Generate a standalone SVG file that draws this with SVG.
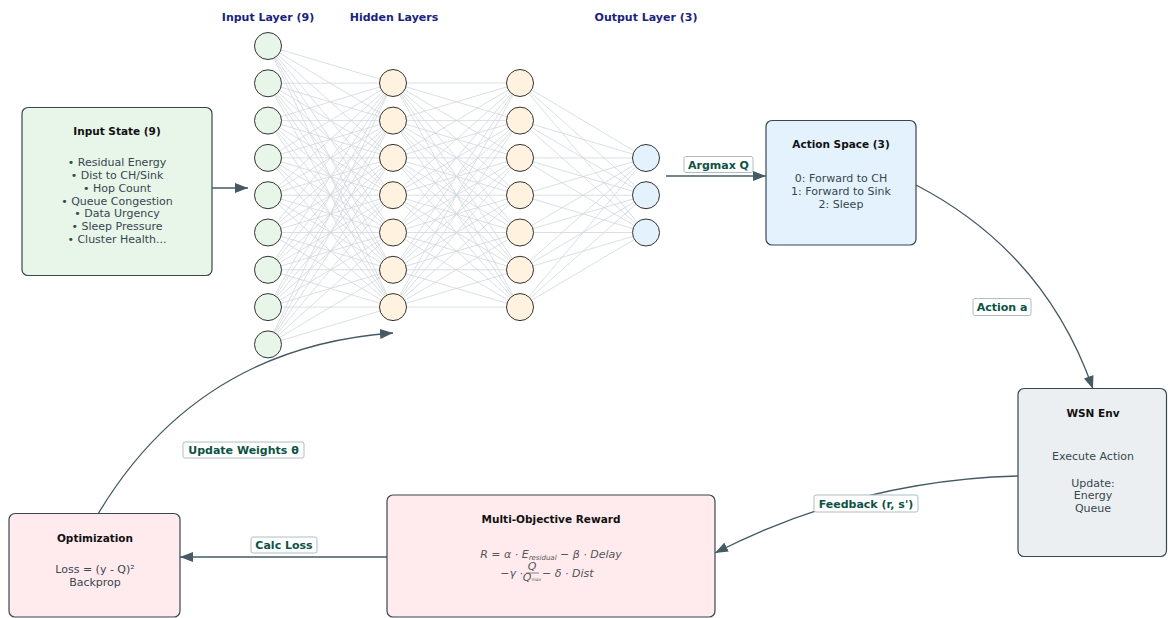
<svg xmlns="http://www.w3.org/2000/svg" width="1168" height="618" viewBox="0 0 1168 618">
<defs>
<marker id="arr" markerUnits="userSpaceOnUse" markerWidth="14" markerHeight="10" refX="13" refY="5" orient="auto">
<path d="M0,0 L13,5 L0,10 z" fill="#455a64"/>
</marker>
<style>
.lt{font-family:"DejaVu Sans",sans-serif;font-weight:bold;font-size:11px;fill:#1a237e;text-anchor:middle}
.ttl{font-family:"DejaVu Sans",sans-serif;font-weight:bold;font-size:10.5px;fill:#111;text-anchor:middle}
.bd{font-family:"DejaVu Sans",sans-serif;font-size:11px;fill:#37474f;text-anchor:middle}
.box{stroke:#37474f;stroke-width:1.2}
.nd{stroke:#333;stroke-width:1}
.in{fill:#e8f5e9}.hd{fill:#fff3e0}.out{fill:#e3f2fd}
.w{stroke:#cfd8dc;stroke-width:0.8}
.con{fill:none;stroke:#455a64;stroke-width:1.3;marker-end:url(#arr)}
.lb{fill:#fff;stroke:#b0bec5;stroke-width:1}
.lbt{font-family:"DejaVu Sans",sans-serif;font-weight:bold;font-size:11px;fill:#0d5345;text-anchor:middle}
.fm{font-family:"DejaVu Sans",sans-serif;font-style:italic;font-size:11px;fill:#555}
</style>
</defs>
<rect width="1168" height="618" fill="#fff"/>

<g id="layer-titles">
<text class="lt" x="268" y="21">Input Layer (9)</text>
<text class="lt" x="394" y="21">Hidden Layers</text>
<text class="lt" x="646" y="21">Output Layer (3)</text>
</g>

<g id="weights">
<g class="w">
<path d="M268,46 L393,83 M268,46 L393,120.6 M268,46 L393,157.9 M268,46 L393,195.2 M268,46 L393,232.5 M268,46 L393,269.8 M268,46 L393,307.1
M268,83.3 L393,83 M268,83.3 L393,120.6 M268,83.3 L393,157.9 M268,83.3 L393,195.2 M268,83.3 L393,232.5 M268,83.3 L393,269.8 M268,83.3 L393,307.1
M268,120.6 L393,83 M268,120.6 L393,120.6 M268,120.6 L393,157.9 M268,120.6 L393,195.2 M268,120.6 L393,232.5 M268,120.6 L393,269.8 M268,120.6 L393,307.1
M268,157.9 L393,83 M268,157.9 L393,120.6 M268,157.9 L393,157.9 M268,157.9 L393,195.2 M268,157.9 L393,232.5 M268,157.9 L393,269.8 M268,157.9 L393,307.1
M268,195.2 L393,83 M268,195.2 L393,120.6 M268,195.2 L393,157.9 M268,195.2 L393,195.2 M268,195.2 L393,232.5 M268,195.2 L393,269.8 M268,195.2 L393,307.1
M268,232.5 L393,83 M268,232.5 L393,120.6 M268,232.5 L393,157.9 M268,232.5 L393,195.2 M268,232.5 L393,232.5 M268,232.5 L393,269.8 M268,232.5 L393,307.1
M268,269.8 L393,83 M268,269.8 L393,120.6 M268,269.8 L393,157.9 M268,269.8 L393,195.2 M268,269.8 L393,232.5 M268,269.8 L393,269.8 M268,269.8 L393,307.1
M268,307.1 L393,83 M268,307.1 L393,120.6 M268,307.1 L393,157.9 M268,307.1 L393,195.2 M268,307.1 L393,232.5 M268,307.1 L393,269.8 M268,307.1 L393,307.1
M268,344.4 L393,83 M268,344.4 L393,120.6 M268,344.4 L393,157.9 M268,344.4 L393,195.2 M268,344.4 L393,232.5 M268,344.4 L393,269.8 M268,344.4 L393,307.1"/>
<path d="M393,83 L520,83 M393,83 L520,120.6 M393,83 L520,157.9 M393,83 L520,195.2 M393,83 L520,232.5 M393,83 L520,269.8 M393,83 L520,307.1
M393,120.6 L520,83 M393,120.6 L520,120.6 M393,120.6 L520,157.9 M393,120.6 L520,195.2 M393,120.6 L520,232.5 M393,120.6 L520,269.8 M393,120.6 L520,307.1
M393,157.9 L520,83 M393,157.9 L520,120.6 M393,157.9 L520,157.9 M393,157.9 L520,195.2 M393,157.9 L520,232.5 M393,157.9 L520,269.8 M393,157.9 L520,307.1
M393,195.2 L520,83 M393,195.2 L520,120.6 M393,195.2 L520,157.9 M393,195.2 L520,195.2 M393,195.2 L520,232.5 M393,195.2 L520,269.8 M393,195.2 L520,307.1
M393,232.5 L520,83 M393,232.5 L520,120.6 M393,232.5 L520,157.9 M393,232.5 L520,195.2 M393,232.5 L520,232.5 M393,232.5 L520,269.8 M393,232.5 L520,307.1
M393,269.8 L520,83 M393,269.8 L520,120.6 M393,269.8 L520,157.9 M393,269.8 L520,195.2 M393,269.8 L520,232.5 M393,269.8 L520,269.8 M393,269.8 L520,307.1
M393,307.1 L520,83 M393,307.1 L520,120.6 M393,307.1 L520,157.9 M393,307.1 L520,195.2 M393,307.1 L520,232.5 M393,307.1 L520,269.8 M393,307.1 L520,307.1"/>
<path d="M520,83 L646,158 M520,83 L646,195.2 M520,83 L646,232.5
M520,120.6 L646,158 M520,120.6 L646,195.2 M520,120.6 L646,232.5
M520,157.9 L646,158 M520,157.9 L646,195.2 M520,157.9 L646,232.5
M520,195.2 L646,158 M520,195.2 L646,195.2 M520,195.2 L646,232.5
M520,232.5 L646,158 M520,232.5 L646,195.2 M520,232.5 L646,232.5
M520,269.8 L646,158 M520,269.8 L646,195.2 M520,269.8 L646,232.5
M520,307.1 L646,158 M520,307.1 L646,195.2 M520,307.1 L646,232.5"/>
</g>
</g>

<g id="input-layer" class="nd in">
<circle cx="268" cy="46" r="13.5"/><circle cx="268" cy="83.3" r="13.5"/><circle cx="268" cy="120.6" r="13.5"/>
<circle cx="268" cy="157.9" r="13.5"/><circle cx="268" cy="195.2" r="13.5"/><circle cx="268" cy="232.5" r="13.5"/>
<circle cx="268" cy="269.8" r="13.5"/><circle cx="268" cy="307.1" r="13.5"/><circle cx="268" cy="344.4" r="13.5"/>
</g>
<g id="hidden-layer-1" class="nd hd">
<circle cx="393" cy="83" r="13.5"/><circle cx="393" cy="120.6" r="13.5"/><circle cx="393" cy="157.9" r="13.5"/>
<circle cx="393" cy="195.2" r="13.5"/><circle cx="393" cy="232.5" r="13.5"/><circle cx="393" cy="269.8" r="13.5"/>
<circle cx="393" cy="307.1" r="13.5"/>
</g>
<g id="hidden-layer-2" class="nd hd">
<circle cx="520" cy="83" r="13.5"/><circle cx="520" cy="120.6" r="13.5"/><circle cx="520" cy="157.9" r="13.5"/>
<circle cx="520" cy="195.2" r="13.5"/><circle cx="520" cy="232.5" r="13.5"/><circle cx="520" cy="269.8" r="13.5"/>
<circle cx="520" cy="307.1" r="13.5"/>
</g>
<g id="output-layer" class="nd out">
<circle cx="646" cy="158" r="13.5"/><circle cx="646" cy="195.2" r="13.5"/><circle cx="646" cy="232.5" r="13.5"/>
</g>

<g id="input-state">
<rect class="box" x="22" y="107.5" width="190" height="168" rx="6" fill="#e8f5e9"/>
<text class="ttl" x="117" y="135">Input State (9)</text>
<text class="bd" x="117" y="166">• Residual Energy</text>
<text class="bd" x="117" y="179">• Dist to CH/Sink</text>
<text class="bd" x="117" y="192">• Hop Count</text>
<text class="bd" x="117" y="205">• Queue Congestion</text>
<text class="bd" x="117" y="217">• Data Urgency</text>
<text class="bd" x="117" y="230">• Sleep Pressure</text>
<text class="bd" x="117" y="243">• Cluster Health...</text>
</g>

<g id="action-space">
<rect class="box" x="766" y="120.5" width="150" height="124.5" rx="6" fill="#e3f2fd"/>
<text class="ttl" x="841" y="148">Action Space (3)</text>
<text class="bd" x="841" y="182">0: Forward to CH</text>
<text class="bd" x="841" y="195">1: Forward to Sink</text>
<text class="bd" x="841" y="208">2: Sleep</text>
</g>

<g id="wsn-env">
<rect class="box" x="1018" y="388.5" width="148.5" height="168" rx="6" fill="#eceff1"/>
<text class="ttl" x="1093" y="417">WSN Env</text>
<text class="bd" x="1093" y="460">Execute Action</text>
<text class="bd" x="1093" y="487">Update:</text>
<text class="bd" x="1093" y="499">Energy</text>
<text class="bd" x="1093" y="512">Queue</text>
</g>

<g id="reward">
<rect class="box" x="387" y="495" width="328" height="122" rx="6" fill="#ffebee"/>
<text class="ttl" x="551" y="523">Multi-Objective Reward</text>
<text class="fm" x="551" y="558" text-anchor="middle">R = α · E<tspan font-size="7" dy="2">residual</tspan><tspan dy="-2"> − β · Delay</tspan></text>
<text class="fm" x="523" y="577" text-anchor="end">−γ ·</text>
<text class="fm" x="532" y="570" font-size="6" text-anchor="middle">Q</text>
<line x1="526" y1="573" x2="539" y2="573" stroke="#555" stroke-width="0.7"/>
<text class="fm" x="532" y="581" font-size="6" text-anchor="middle">Q<tspan font-size="4.5">max</tspan></text>
<text class="fm" x="542" y="577">− δ · Dist</text>
</g>

<g id="optimization">
<rect class="box" x="9" y="513.5" width="171" height="103.5" rx="6" fill="#ffebee"/>
<text class="ttl" x="95" y="542">Optimization</text>
<text class="bd" x="95" y="573">Loss = (y - Q)²</text>
<text class="bd" x="95" y="586">Backprop</text>
</g>

<g id="connectors">
<path class="con" d="M212,188 L248,188"/>
<path class="con" d="M666,176 L766,176"/>
<path class="con" d="M916,185 Q1045,252 1093,389"/>
<path class="con" d="M1018,476 Q858,480 715,553"/>
<path class="con" d="M387,557 L180,557"/>
<path class="con" d="M98,514 Q198,347 393,333"/>
</g>

<g id="connector-labels">
<rect class="lb" x="684" y="156.5" width="69" height="16" rx="2"/>
<text class="lbt" x="718.5" y="168.5">Argmax Q</text>
<rect class="lb" x="973" y="298.5" width="58" height="17" rx="2"/>
<text class="lbt" x="1002" y="311">Action a</text>
<rect class="lb" x="814" y="495" width="104" height="17" rx="2"/>
<text class="lbt" x="866" y="507.5">Feedback (r, s')</text>
<rect class="lb" x="251" y="537" width="66" height="16" rx="2"/>
<text class="lbt" x="284" y="549">Calc Loss</text>
<rect class="lb" x="183" y="442" width="121" height="16" rx="2"/>
<text class="lbt" x="243.5" y="454">Update Weights θ</text>
</g>
</svg>
